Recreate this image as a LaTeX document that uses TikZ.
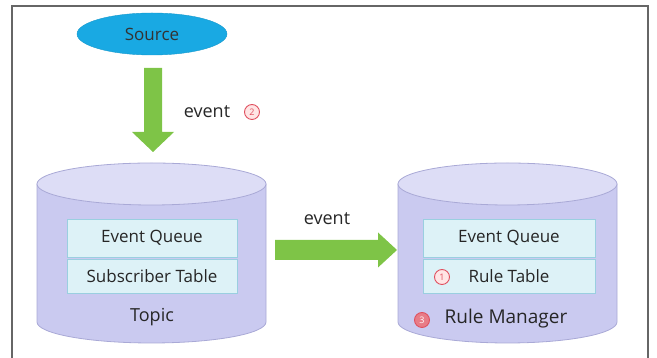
\documentclass[tikz,border=0pt]{standalone}
\usepackage{fontspec}
\setmainfont{Open Sans}
\usetikzlibrary{shapes.geometric,calc}

\definecolor{srcblue}{HTML}{19A9E3}
\definecolor{arrgreen}{HTML}{7EC447}
\definecolor{dbfill}{HTML}{CACAF0}
\definecolor{dbtop}{HTML}{DDDDF6}
\definecolor{dbline}{HTML}{A9A9D6}
\definecolor{boxfill}{HTML}{DDF2F7}
\definecolor{boxline}{HTML}{9ACFE0}
\definecolor{numred}{HTML}{E0505F}

\begin{document}
\begin{tikzpicture}[x=1pt,y=1pt,
    qbox/.style={rectangle, fill=boxfill, draw=boxline, line width=0.8pt,
      inner sep=0pt, font=\fontsize{17}{19}\selectfont, text=black!85},
    numc/.style={circle, draw=numred, fill=red!10, text=numred, line width=0.9pt,
      inner sep=0pt, minimum size=15, font=\fontsize{9}{9}\selectfont},
    lbl/.style={font=\fontsize{18}{20}\selectfont, text=black!85}]

    % 边框
    \useasboundingbox (0,0) rectangle (657,358);
    \draw[black!60, line width=1.2pt] (12,0) -- (12,352) -- (648,352) -- (648,0);

    % Source
    \node[ellipse, fill=srcblue, draw=srcblue!90!black, minimum width=150, minimum height=42,
      font=\fontsize{17}{19}\selectfont, text=black!80] (src) at (152,324) {Source};

    % 两个圆柱
    \foreach \cx/\rx in {151.5/114.5, 507.5/109.5} {
        \filldraw[fill=dbfill, draw=dbline, line width=0.8pt]
          (\cx-\rx,174) -- (\cx-\rx,36) arc[start angle=180, end angle=360, x radius=\rx, y radius=21]
          -- (\cx+\rx,174) -- cycle;
        \filldraw[fill=dbtop, draw=dbline, line width=0.8pt] (\cx,174) ellipse[x radius=\rx, y radius=21];
    }

    % Topic
    \node[qbox, minimum width=170, minimum height=38] (tq) at (152,120) {Event Queue};
    \node[qbox, minimum width=170, minimum height=34] (ts) at (152,81.5) {Subscriber Table};
    \node[lbl] (topic) at (152,41) {Topic};

    % Rule Manager
    \node[qbox, minimum width=172, minimum height=38] (rq) at (509,120) {Event Queue};
    \node[qbox, minimum width=172, minimum height=34] (rt) at (509,81.5) {Rule Table};
    \node[numc] (n1) at (442,81) {1};
    \node[lbl, font=\fontsize{19}{21}\selectfont] (rm) at (506,39) {Rule Manager};
    \node[numc, fill=numred!75, text=white] (n3) at (422,38) {3};

    % 箭头
    \coordinate (d0) at (153,290);
    \fill[arrgreen] ($(d0)+(-9,0)$) -- ($(d0)+(9,0)$) -- ($(d0)+(9,-64)$) -- ($(d0)+(21,-64)$)
      -- ($(d0)+(0,-84)$) -- ($(d0)+(-21,-64)$) -- ($(d0)+(-9,-64)$) -- cycle;
    \node[lbl] (ev1) at (207,246) {event};
    \node[numc] (n2) at (252,246) {2};

    \coordinate (r0) at (275,108);
    \fill[arrgreen] ($(r0)+(0,10)$) -- ($(r0)+(103,10)$) -- ($(r0)+(103,17.5)$) -- ($(r0)+(122,0)$)
      -- ($(r0)+(103,-17.5)$) -- ($(r0)+(103,-10)$) -- ($(r0)+(0,-10)$) -- cycle;
    \node[lbl] (ev2) at (327,139) {event};

\end{tikzpicture}
\end{document}
